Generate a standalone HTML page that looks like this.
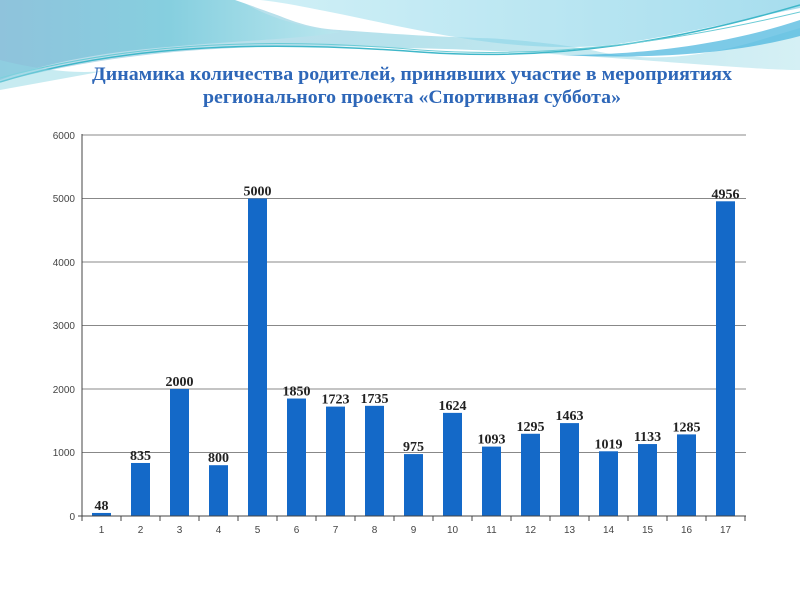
<!DOCTYPE html>
<html><head><meta charset="utf-8"><style>
body{margin:0;width:800px;height:600px;overflow:hidden;background:#fff;font-family:"Liberation Sans",sans-serif}
</style></head><body>
<svg width="800" height="600" viewBox="0 0 800 600" xmlns="http://www.w3.org/2000/svg">
<defs>
<linearGradient id="g1" x1="0" y1="0" x2="1" y2="0"><stop offset="0" stop-color="#8fc3dc"/><stop offset="0.5" stop-color="#86cfdf"/><stop offset="1" stop-color="#b9e6ee"/></linearGradient>
<linearGradient id="g2" x1="0" y1="0" x2="1" y2="0"><stop offset="0" stop-color="#a9e3ef"/><stop offset="1" stop-color="#5fc2e0"/></linearGradient>
</defs>
<rect width="800" height="600" fill="#fff"/>
<path d="M0,0 H240 C280,15 300,28 340,30 C420,34 540,38 600,52 C650,62 700,58 760,40 L800,28 V70 C740,70 560,50 400,48 C250,42 120,50 0,82Z" fill="url(#g1)" opacity="0.6"/>
<path d="M0,0 H240 C260,14 300,28 340,32 C300,40 200,42 120,52 C60,60 20,72 0,80Z" fill="url(#g1)"/>
<path d="M235,0 H800 V6 C760,12 720,20 660,30 C560,46 420,36 340,30 C300,25 270,12 235,0Z" fill="#fff"/>
<path d="M260,0 H800 V8 C740,20 660,40 600,46 C500,52 420,30 330,12 C300,6 280,2 260,0Z" fill="url(#g2)" opacity="0.55"/>
<path d="M0,82 C120,45 260,40 420,52 C560,62 680,40 800,5" fill="none" stroke="#3fb7c9" stroke-width="1.5"/>
<path d="M0,78 C140,40 280,38 420,50 C560,60 690,38 800,12" fill="none" stroke="#6bcbd6" stroke-width="1"/>
<path d="M560,55 C660,55 740,40 800,20 V36 C740,52 660,60 560,55Z" fill="#45b3dd" opacity="0.7"/>
<path d="M0,60 C40,70 80,75 110,70 L0,90Z" fill="#8fd8e4" opacity="0.5"/>
<text x="92" y="80" textLength="640" lengthAdjust="spacingAndGlyphs" font-family="Liberation Serif,serif" font-weight="bold" font-size="19" fill="#2e67b8">Динамика количества родителей, принявших участие в мероприятиях</text>
<text x="203" y="103" textLength="418" lengthAdjust="spacingAndGlyphs" font-family="Liberation Serif,serif" font-weight="bold" font-size="19" fill="#2e67b8">регионального проекта «Спортивная суббота»</text>
<g stroke="#888" stroke-width="1">
<line x1="82" y1="135" x2="746" y2="135"/><line x1="82" y1="198.5" x2="746" y2="198.5"/><line x1="82" y1="262" x2="746" y2="262"/><line x1="82" y1="325.5" x2="746" y2="325.5"/><line x1="82" y1="389" x2="746" y2="389"/><line x1="82" y1="452.5" x2="746" y2="452.5"/>
</g>
<g font-size="10" fill="#444" text-anchor="end">
<text x="75" y="139">6000</text><text x="75" y="202">5000</text><text x="75" y="266">4000</text><text x="75" y="329">3000</text><text x="75" y="393">2000</text><text x="75" y="456">1000</text><text x="75" y="520">0</text>
</g>
<g id="bars" fill="#1469c8"></g>
<g id="lbl" font-family="Liberation Serif,serif" font-weight="bold" font-size="14" fill="#222" text-anchor="middle"></g>
<g id="xl" font-size="10" fill="#444" text-anchor="middle"></g>
<line x1="82" y1="134" x2="82" y2="521" stroke="#444"/>
<line x1="78" y1="516" x2="746" y2="516" stroke="#444"/>
<g id="tk" stroke="#444"></g>
</svg>
<script>
var v=[48,835,2000,800,5000,1850,1723,1735,975,1624,1093,1295,1463,1019,1133,1285,4956];
var ns="http://www.w3.org/2000/svg",B=document.getElementById('bars'),L=document.getElementById('lbl'),X=document.getElementById('xl'),T=document.getElementById('tk');
function el(p,t,a,txt){var e=document.createElementNS(ns,t);for(var k in a)e.setAttribute(k,a[k]);if(txt)e.textContent=txt;p.appendChild(e);}
for(var i=0;i<17;i++){var c=82+39*i+19.5,h=v[i]*0.0635,y=516-h;
el(B,'rect',{x:c-9.5,y:y,width:19,height:h});
el(L,'text',{x:c,y:y-3},String(v[i]));
el(X,'text',{x:c,y:533},String(i+1));
el(T,'line',{x1:82+39*(i+1),y1:516,x2:82+39*(i+1),y2:521});}
</script>
</body></html>
